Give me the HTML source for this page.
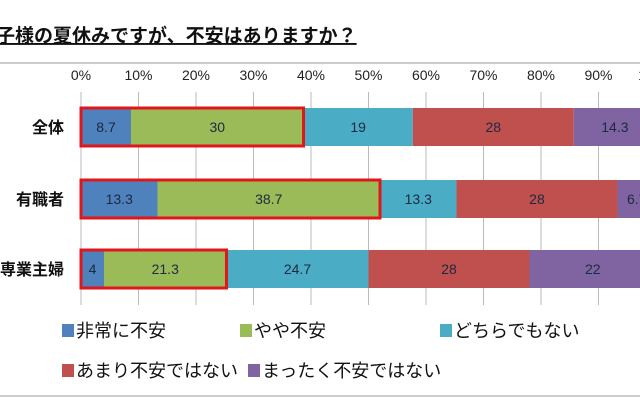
<!DOCTYPE html>
<html><head><meta charset="utf-8"><style>
body{margin:0;width:640px;height:400px;background:#fff;overflow:hidden;font-family:"Liberation Sans","Noto Sans CJK JP",sans-serif}
</style></head><body>
<svg id="c" width="640" height="400" xmlns="http://www.w3.org/2000/svg">
<text x="-4" y="42" font-size="19" font-weight="bold" fill="#111" font-family="Liberation Sans, Noto Sans CJK JP, sans-serif" text-decoration="underline">子様の夏休みですが、不安はありますか？</text>
<line x1="0" y1="63" x2="640" y2="63" stroke="#999" stroke-width="1"/>
<line x1="0" y1="396" x2="640" y2="396" stroke="#999" stroke-width="1"/>
<g id="grid"></g><g id="bars"></g><g id="legend"></g>
</svg>
<script>
const categories=["全体","有職者","専業主婦"];
const seriesNames=["非常に不安","やや不安","どちらでもない","あまり不安ではない","まったく不安ではない"];
const s1=[8.7,13.3,4];
const s2=[30,38.7,21.3];
const s3=[19,13.3,24.7];
const s4=[28,28,28];
const s5=[14.3,6.7,22];
const ticks=[0,10,20,30,40,50,60,70,80,90,100];
const colors=["#4f81bd","#9bbb59","#4bacc6","#c0504d","#8064a2"];
const series=[s1,s2,s3,s4,s5];
const NS="http://www.w3.org/2000/svg";
const x=v=>81+v*5.75;
const rowY=[108,180,250], barH=38;
function el(t,a,p){const e=document.createElementNS(NS,t);for(const k in a)e.setAttribute(k,a[k]);p.appendChild(e);return e;}
const grid=document.getElementById('grid'),bars=document.getElementById('bars'),leg=document.getElementById('legend');
ticks.forEach(t=>{
 const l=el('line',{x1:x(t),x2:x(t),y1:92,y2:305,stroke:'#bbb','stroke-width':1},grid);
 
 
 const tx=el('text',{x:x(t),y:80,'text-anchor':'middle','font-size':14,fill:'#222'},grid);
 tx.textContent=t+'%';
 
 
});
categories.forEach((c,i)=>{
 const y=rowY[i];
 const lab=el('text',{x:64,y:y+barH/2+6,'text-anchor':'end','font-size':16,'font-weight':'bold',fill:'#111'},bars);
 lab.textContent=c;
 
 
 let cum=0;
 series.forEach((s,j)=>{
  const v=s[i];
  const r=el('rect',{x:x(cum),y:y,width:x(cum+v)-x(cum),height:barH,fill:colors[j]},bars);
  
  
  const t=el('text',{x:(x(cum)+x(cum+v))/2,y:y+barH/2+5,'text-anchor':'middle','font-size':14,fill:'#1a2a40'},bars);
  t.textContent=v;
  
  
  cum+=v;
 });
 const hb=el('rect',{x:x(0),y:y,width:x(s1[i]+s2[i])-x(0),height:barH,fill:'none',stroke:'#e0161b','stroke-width':3},bars);
 
 
});
const lp=[[62,337],[240,337],[440,337],[62,377],[248,377]];
seriesNames.forEach((n,j)=>{
 const [lx,ly]=lp[j];
 const r=el('rect',{x:lx,y:ly-13,width:12,height:13,fill:colors[j]},leg);
 
 
 const t=el('text',{x:lx+14,y:ly,'font-size':18,fill:'#111'},leg);
 t.textContent=n;
 
 
});
</script>
</body></html>
